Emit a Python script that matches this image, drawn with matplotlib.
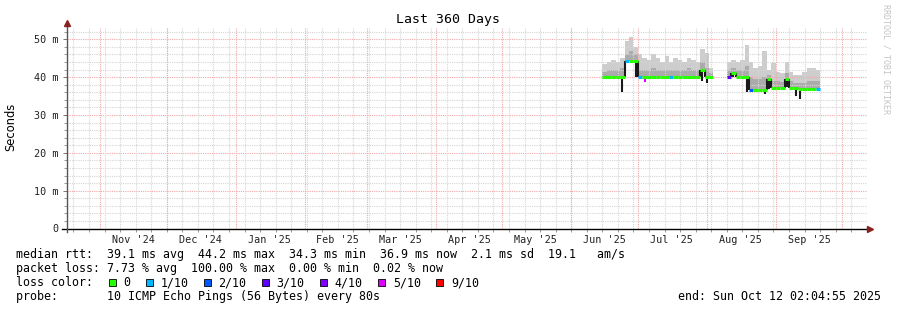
import matplotlib
matplotlib.use('Agg')
import matplotlib.pyplot as plt
import matplotlib.dates as mdates
from matplotlib.lines import Line2D
import numpy as np
import pandas as pd
from datetime import datetime, timedelta

# ---- data (ms), 2-day bins starting 2025-06-15 ----
bin_start = '2025-06-15'
nan = np.nan
median_ms = [40.0, 40.0, 40.0, 40.0, 40.0, 44.2, 44.2, 44.2, 40.0, 40.0,
             40.0, 40.0, 40.0, 40.0, 40.0, 40.0, 40.0, 40.0, 40.0, 40.0,
             40.0, 40.0, 42.0, 40.0, 40.0, nan, nan, nan, 40.0, 41.2,
             40.0, 40.0, 40.0, 36.7, 36.7, 36.7, 36.7, 39.4, 37.2, 37.2,
             37.2, 39.5, 37.2, 37.2, 37.0, 37.0, 37.0, 37.0, 36.9]
smoke_hi_ms = [43.5, 44.0, 44.5, 44.0, 45.0, 49.5, 50.5, 48.0, 46.0, 45.0,
               44.5, 46.0, 45.0, 44.0, 45.5, 44.0, 45.0, 44.5, 44.0, 45.0,
               44.5, 44.0, 47.5, 46.5, 42.5, nan, nan, nan, 44.0, 44.5,
               44.0, 44.5, 48.5, 44.0, 42.5, 43.0, 47.0, 42.0, 43.8, 41.5,
               41.0, 44.0, 41.5, 40.5, 40.5, 41.5, 42.5, 42.5, 42.0]
smoke_mid_ms = [41.5, 42.0, 42.0, 42.0, 42.5, 46.0, 47.0, 46.0, 42.0, 42.0,
                42.0, 42.5, 42.0, 42.0, 42.0, 42.0, 42.0, 42.0, 42.0, 42.5,
                42.0, 42.0, 44.0, 42.5, 41.0, nan, nan, nan, 42.0, 42.5,
                42.0, 42.0, 43.0, 40.0, 39.5, 39.5, 40.0, 40.5, 39.0, 39.0,
                38.8, 41.0, 39.0, 38.5, 38.5, 38.5, 39.0, 39.0, 39.0]
low_ms = [39.5, 39.2, 39.5, 39.5, 36.0, 44.0, 44.0, 40.0, 39.0, 38.6,
          39.5, 39.5, 39.5, 39.5, 39.3, 39.5, 39.5, 39.5, 39.5, 39.5,
          39.5, 39.5, 39.0, 38.5, 39.5, nan, nan, nan, 39.5, 40.0,
          39.5, 39.5, 36.0, 36.5, 36.5, 36.5, 35.5, 37.0, 37.0, 37.0,
          36.5, 37.5, 37.0, 35.0, 34.3, 36.5, 36.5, 36.5, 36.5]
loss_idx = [0, 0, 0, 0, 0, 1, 0, 0, 1, 0,
            0, 0, 0, 0, 0, 1, 0, 0, 0, 0,
            0, 0, 0, 0, 0, 0, 0, 0, 3, 0,
            0, 0, 0, 2, 0, 0, 0, 0, 0, 0,
            0, 0, 0, 0, 0, 0, 0, 0, 1]
# loss level of the dip lines (None = black)
dip_loss = {9: 5}

loss_labels = ['0', '1/10', '2/10', '3/10', '4/10', '5/10', '9/10']
loss_colors = ['#26ff00', '#00b8ff', '#0059ff', '#5e00ff', '#7e00ff', '#dd00ff', '#ff0000']

stat_lines = [
    'median rtt:  39.1 ms avg  44.2 ms max  34.3 ms min  36.9 ms now  2.1 ms sd  19.1   am/s',
    'packet loss: 7.73 % avg  100.00 % max  0.00 % min  0.02 % now',
]
probe_line = 'probe:       10 ICMP Echo Pings (56 Bytes) every 80s'
end_time = datetime(2025, 10, 12, 2, 4, 55)
start_time = end_time - timedelta(days=360)

W, H = 897, 310
def fx(x):
    return x / W
def fy(y):
    return 1 - y / H

MONO = 'DejaVu Sans Mono'

fig = plt.figure(figsize=(W / 100, H / 100), dpi=100, facecolor='white')
ax = fig.add_axes([fx(67), fy(228.5), fx(867) - fx(67), fy(28) - fy(228.5)])
ax.set_facecolor('white')

bins = pd.date_range(bin_start, periods=len(median_ms), freq='2D')
x0 = mdates.date2num(bins)
bw = 2.0
med = np.array(median_ms)
hi = np.array(smoke_hi_ms)
mid = np.array(smoke_mid_ms)
lo = np.array(low_ms)

# smoke
ax.bar(x0, hi - med, bottom=med, width=bw, align='edge', color='#cdcdcd', lw=0, zorder=2)
ax.bar(x0, mid - med, bottom=med, width=bw, align='edge', color='#ababab', lw=0, zorder=2)

# grid
for v in range(2, 54, 2):
    c = '#f2a8a8' if v % 10 == 0 else '#d6d6d6'
    ax.axhline(v, color=c, lw=0.8, ls=(0, (1, 1)), zorder=3)
sundays = pd.date_range('2024-10-20', end_time, freq='7D')
for d in sundays:
    ax.axvline(mdates.date2num(d), color='#d6d6d6', lw=0.8, ls=(0, (1, 1)), zorder=3)
month_starts = pd.date_range('2024-11-01', end_time, freq='MS')
for d in month_starts:
    ax.axvline(mdates.date2num(d), color='#f2a8a8', lw=0.8, ls=(0, (1, 1)), zorder=3)

# dips below the median
for i in range(len(med)):
    if np.isfinite(med[i]) and med[i] - lo[i] > 1:
        c = loss_colors[dip_loss[i]] if i in dip_loss else '#1a1a1a'
        ax.vlines(x0[i] + bw / 2, lo[i], med[i], color=c, lw=1.5, zorder=4)
# steps of the median
for i in range(1, len(med)):
    if np.isfinite(med[i]) and np.isfinite(med[i - 1]) and abs(med[i] - med[i - 1]) > 0.5:
        ax.vlines(x0[i], min(med[i], med[i - 1]), max(med[i], med[i - 1]), color='#1a1a1a', lw=1.5, zorder=4)
# median coloured by loss
for i in range(len(med)):
    if np.isfinite(med[i]):
        ax.hlines(med[i], x0[i], x0[i] + bw, color=loss_colors[loss_idx[i]], lw=2.2, zorder=5)

ax.set_xlim(mdates.date2num(start_time), mdates.date2num(end_time))
ax.set_ylim(0, 53)
for s in ax.spines.values():
    s.set_visible(False)

yt = list(range(0, 51, 10))
ax.set_yticks(yt)
ax.set_yticklabels(['0' if v == 0 else f'{v} m' for v in yt], family=MONO, fontsize=7.3, color='#222222')
ax.set_yticks(range(0, 54, 2), minor=True)
ax.tick_params(axis='y', which='major', length=3, width=0.7, color='#777777', pad=3)
ax.tick_params(axis='y', which='minor', length=2, width=0.7, color='#999999')

label_dates = [d + pd.Timedelta(days=15) for d in month_starts]
label_dates = [d for d in label_dates if d < end_time]
ax.set_xticks(mdates.date2num(label_dates))
ax.set_xticklabels([d.strftime("%b '%y") for d in label_dates], family=MONO, fontsize=7.3, color='#222222')
ax.tick_params(axis='x', which='major', length=0, pad=5)
ax.set_xticks(mdates.date2num(sundays), minor=True)
ax.tick_params(axis='x', which='minor', length=2, width=0.7, color='#999999')

# axes lines and arrows
fig.add_artist(Line2D([fx(62), fx(868)], [fy(228.5), fy(228.5)], color='black', lw=1.0))
fig.add_artist(Line2D([fx(67), fx(67)], [fy(232), fy(25)], color='#555555', lw=1.0))
fig.add_artist(Line2D([fx(870)], [fy(228.5)], marker='>', color='#8b2020', markersize=4, lw=0))
fig.add_artist(Line2D([fx(67)], [fy(22.5)], marker='^', color='#8b2020', markersize=4, lw=0))

fig.text(fx(448), fy(19), 'Last 360 Days', family=MONO, fontsize=9.5, ha='center', va='center')
fig.text(fx(11), fy(127), 'Seconds', family='DejaVu Sans', fontsize=8.3, rotation=90, ha='center', va='center')
fig.text(fx(886), fy(4), 'RRDTOOL / TOBI OETIKER', family=MONO, fontsize=6, rotation=270,
         ha='center', va='top', color='#c4c4c4')

# legend block
for k, line in enumerate(stat_lines):
    fig.text(fx(16), fy(254.5 + 14 * k), line, family=MONO, fontsize=8.4, ha='left', va='center')
fig.text(fx(16), fy(282.5), 'loss color:', family=MONO, fontsize=8.4, ha='left', va='center')
xpos = 108.5
for lab, col in zip(loss_labels, loss_colors):
    fig.add_artist(plt.Rectangle((fx(xpos), fy(286)), fx(7), fy(279) - fy(286),
                                 facecolor=col, edgecolor='black', lw=0.6))
    fig.text(fx(xpos + 15), fy(282.5), lab, family=MONO, fontsize=8.4, ha='left', va='center')
    xpos += 15 + 7.02 * len(lab) + 15
fig.text(fx(16), fy(296.5), probe_line, family=MONO, fontsize=8.4, ha='left', va='center')
fig.text(fx(881), fy(296.5), 'end: ' + end_time.strftime('%a %b %d %H:%M:%S %Y'),
         family=MONO, fontsize=8.4, ha='right', va='center')

fig.savefig('out.png', dpi=100, facecolor='white')
